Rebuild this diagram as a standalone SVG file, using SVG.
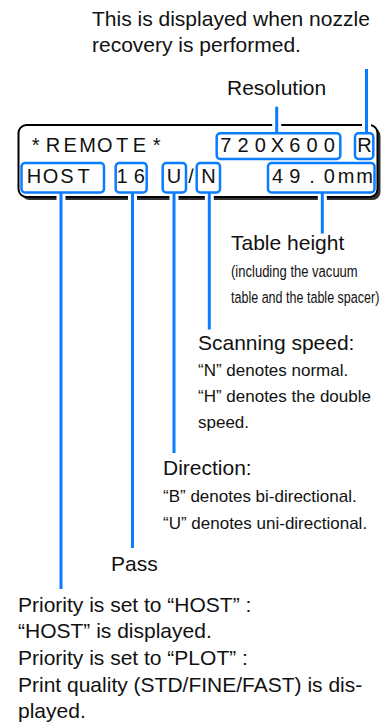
<svg xmlns="http://www.w3.org/2000/svg" width="392" height="724" viewBox="0 0 392 724">
<style>
.t{font-family:"Liberation Sans",Arial,sans-serif;font-size:21px;fill:#111}
.s{font-family:"Liberation Sans",Arial,sans-serif;font-size:17px;fill:#111}
.n{font-family:"Liberation Sans",Arial,sans-serif;font-size:16.5px;fill:#111}
.lcd{font-family:"Liberation Sans",Arial,sans-serif;font-size:20px;fill:#111;text-anchor:middle}
.bx{fill:none;stroke:#0a7cff;stroke-width:2.5}
.ln{stroke:#0a7cff;stroke-width:3;fill:none}
.gap{stroke:#fff;stroke-width:9}
</style>
<defs>
<clipPath id="row2"><rect x="0" y="168.5" width="392" height="30"/></clipPath>
</defs>
<rect width="392" height="724" fill="#fff"/>

<g id="display">
<rect x="21.5" y="128" width="359" height="72" rx="8" fill="#333"/>
<rect x="18.5" y="125" width="359" height="72" rx="8" fill="#fff" stroke="#000" stroke-width="2"/>
<text class="lcd" x="35.7 53 70.2 87.5 104.8 122.1 139.3 156.6" y="152">*REMOTE*</text>
<text class="lcd" x="225.7 243 260.2 277.5 294.8 312 329.3" y="152">720X600</text>
<text class="lcd" x="364.5" y="152">R</text>
<g clip-path="url(#row2)">
<text class="lcd" x="34 50.5 67 83.5" y="183">HOST</text>
<text class="lcd" x="122.1 139.3" y="183">16</text>
<text class="lcd" x="173.9" y="183">U</text>
<text class="lcd" x="191.1" y="183">/</text>
<text class="lcd" x="208.4" y="183">N</text>
<text class="lcd" x="277.5 294.8 312 329.3 346.2 364.6" y="183">49.0mm</text>
</g>
</g>

<g id="connectors">
<line class="gap" x1="276.7" y1="118" x2="276.7" y2="132"/>
<line class="gap" x1="366.5" y1="118" x2="366.5" y2="132"/>
<line class="gap" x1="61" y1="194" x2="61" y2="204"/>
<line class="gap" x1="132.5" y1="194" x2="132.5" y2="204"/>
<line class="gap" x1="174" y1="194" x2="174" y2="204"/>
<line class="gap" x1="209.3" y1="194" x2="209.3" y2="204"/>
<line class="gap" x1="322.3" y1="194" x2="322.3" y2="204"/>
<line class="ln" x1="276.7" y1="106.7" x2="276.7" y2="133"/>
<line class="ln" x1="366.5" y1="69" x2="366.5" y2="133"/>
<line class="ln" x1="61" y1="192.5" x2="61" y2="589"/>
<line class="ln" x1="132.5" y1="192.5" x2="132.5" y2="548"/>
<line class="ln" x1="174" y1="192.5" x2="174" y2="453"/>
<line class="ln" x1="209.3" y1="192.5" x2="209.3" y2="329.5"/>
<line class="ln" x1="322.3" y1="192.5" x2="322.3" y2="233.5"/>
</g>

<g id="fields">
<rect id="f-res" class="bx" x="216.7" y="133.3" width="123.6" height="25.7" rx="3.5"/>
<rect id="f-r" class="bx" x="355" y="133.3" width="18.3" height="25.7" rx="3.5"/>
<rect id="f-host" class="bx" x="21.5" y="163" width="82.5" height="29.5" rx="3.5"/>
<rect id="f-pass" class="bx" x="115.7" y="163" width="31" height="29.5" rx="3.5"/>
<rect id="f-dir" class="bx" x="162.7" y="163" width="23.3" height="29.5" rx="3.5"/>
<rect id="f-speed" class="bx" x="196.7" y="163" width="23.3" height="29.5" rx="3.5"/>
<rect id="f-height" class="bx" x="268" y="163" width="106.5" height="29.5" rx="3.5"/>
</g>

<g id="label-recovery">
<text class="t" x="92" y="26">This is displayed when nozzle</text>
<text class="t" x="92" y="52">recovery is performed.</text>
</g>
<g id="label-resolution">
<text class="t" x="227" y="95">Resolution</text>
</g>
<g id="label-table">
<text class="t" x="231" y="250">Table height</text>
<text class="n" transform="translate(231,277) scale(0.79,1)">(including the vacuum</text>
<text class="n" transform="translate(231,303) scale(0.76,1)">table and the table spacer)</text>
</g>
<g id="label-speed">
<text class="t" x="198" y="350">Scanning speed:</text>
<text class="s" x="198" y="376">“N” denotes normal.</text>
<text class="s" x="198" y="402">“H” denotes the double</text>
<text class="s" x="198" y="428">speed.</text>
</g>
<g id="label-direction">
<text class="t" x="163" y="475">Direction:</text>
<text class="s" x="163" y="502">“B” denotes bi-directional.</text>
<text class="s" x="163" y="529">“U” denotes uni-directional.</text>
</g>
<g id="label-pass">
<text class="t" x="111" y="571">Pass</text>
</g>
<g id="label-priority">
<text class="t" x="18" y="612">Priority is set to “HOST” :</text>
<text class="t" x="18" y="638">“HOST” is displayed.</text>
<text class="t" x="18" y="665">Priority is set to “PLOT” :</text>
<text class="t" x="18" y="692">Print quality (STD/FINE/FAST) is dis-</text>
<text class="t" x="18" y="718">played.</text>
</g>
</svg>
